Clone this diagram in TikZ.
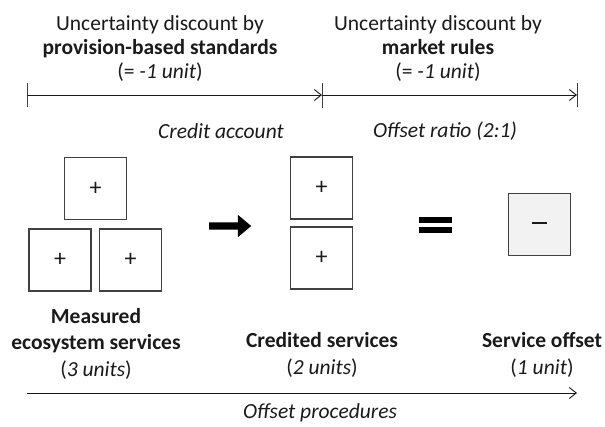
\documentclass[tikz,border=0pt]{standalone}
\usepackage{fontspec}
\setmainfont{Carlito}
\usetikzlibrary{arrows.meta,shapes.arrows}
\definecolor{ink}{HTML}{1A1A1A}
\definecolor{edge}{HTML}{404040}
\definecolor{offsetfill}{HTML}{F2F2F2}
\begin{document}
\begin{tikzpicture}[x=1pt,y=-1pt,
  lbl/.style={text=ink,font=\fontsize{21.5}{24}\selectfont,align=center,inner sep=0pt},
  steplbl/.style={text=ink,font=\fontsize{21.5}{24}\selectfont\itshape,align=center,inner sep=0pt},
  caption/.style={text=ink,font=\fontsize{21.5}{26.5}\selectfont,align=center,inner sep=0pt},
  unitbox/.style={draw=edge,line width=1.2pt,minimum width=62pt,minimum height=62pt,
    inner sep=0pt,text=ink,font=\fontsize{24}{24}\selectfont},
  axis/.style={draw=ink,line width=0.9pt},
  tip/.style={-{Straight Barb[length=7pt,width=11pt,line width=0.9pt]}},
  tickmark/.style={draw=edge,line width=0.9pt}]
\useasboundingbox (0,0) rectangle (605,426);

% discount headings
\node[lbl] (hl) at (160,48.5) {Uncertainty discount by\\ \textbf{provision-based standards}\\ (= \textit{-1 unit})};
\node[lbl] (hr) at (438,48.5) {Uncertainty discount by\\ \textbf{market rules}\\ (= \textit{-1 unit})};

% discount timeline
\coordinate (t0) at (27,95);
\coordinate (t1) at (322,95);
\coordinate (t2) at (577,95);
\draw[tickmark] ([yshift=-12pt]t0) -- ([yshift=12pt]t0);
\draw[tickmark] ([yshift=-13pt]t1) -- ([yshift=12pt]t1);
\draw[tickmark] ([yshift=-12pt]t2) -- ([yshift=12pt]t2);
\draw[axis,tip] (t0) -- (t1);
\draw[axis,tip] (t1) -- (t2);

% step labels
\node[steplbl] (ca) at (221,131) {Credit account};
\node[steplbl] (orr) at (445,131) {Offset ratio (2:1)};

% measured services
\node[unitbox] (m1) at (95.5,188.5) {+};
\node[unitbox] (m2) at (60,260) {+};
\node[unitbox] (m3) at (130.5,260) {+};

% block arrow
\node[single arrow,fill=black,draw=none,minimum height=42pt,minimum width=22pt,
  inner sep=3.5pt,single arrow head extend=7.5pt,single arrow tip angle=80] (go) at (228,226) {};

% credited services
\node[unitbox] (c1) at (321.5,188) {+};
\node[unitbox] (c2) at (321.5,258) {+};

% equals sign
\node[inner sep=0pt,minimum width=33pt,minimum height=16pt] (eq) at (435.5,225) {};
\fill[black] (eq.north west) rectangle ([yshift=-6pt]eq.north east);
\fill[black] ([yshift=6pt]eq.south west) rectangle (eq.south east);

% service offset
\node[unitbox,fill=offsetfill] (so) at (539.5,224.5) {\rule[0.3ex]{15pt}{1.8pt}};

% captions
\node[caption] (mc) at (96,343.5) {\textbf{Measured}\\ \textbf{ecosystem services}\\ (\textit{3 units})};
\node[caption] (cc) at (322,355) {\textbf{Credited services}\\ (\textit{2 units})};
\node[caption] (sc) at (542,355) {\textbf{Service offset}\\ (\textit{1 unit})};

% procedure axis
\coordinate (p0) at (27,393);
\coordinate (p1) at (577,393);
\draw[axis,tip] (p0) -- (p1);
\node[steplbl] (op) at (320,413) {Offset procedures};
\end{tikzpicture}
\end{document}
